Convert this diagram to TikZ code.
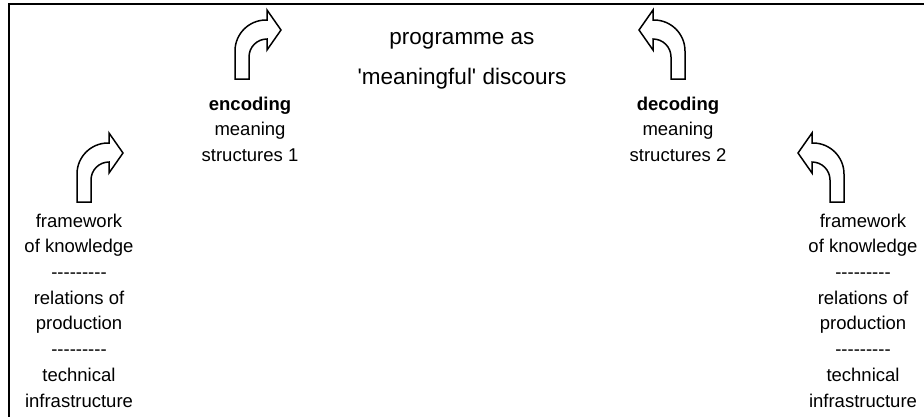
\documentclass[tikz,border=0pt]{standalone}
\usepackage{fontspec}
\setmainfont{Liberation Sans}[Ligatures=TeXOff]
\begin{document}
\begin{tikzpicture}[x=1pt,y=-1pt,
  txt/.style={inner sep=0pt, anchor=base, font=\fontsize{18.5}{22}\selectfont},
  bigtxt/.style={txt, font=\fontsize{22.5}{26}\selectfont},
  frameline/.style={line width=2pt, black},
  arrowline/.style={line width=1.5pt, black, line join=miter},
  bentarrow/.pic={
    \draw[arrowline, yscale=-1]
      (0,0) -- (0,28) arc[start angle=180, end angle=90, radius=31]
      -- (32,59) -- (32,69) -- (46,49) -- (32,29) -- (32,40)
      arc[start angle=90, end angle=180, radius=18] -- (14,0) -- cycle;
  }]
\useasboundingbox (0,0) rectangle (924,416);
\draw[frameline] (8.5,420) -- (8.5,3.5) -- (930,3.5);

% arrows
\pic at (77,202) {bentarrow};
\pic at (235,79) {bentarrow};
\pic[xscale=-1] at (685,79) {bentarrow};
\pic[xscale=-1] at (844,202) {bentarrow};

% top text
\node[bigtxt] (prog1) at (462,44) {programme as};
\node[bigtxt] (prog2) at (462,84) {'meaningful' discours};

% encoding
\node[txt] (enc) at (250,110) {\bfseries encoding};
\node[txt] (encm) at (250,135.7) {meaning};
\node[txt] (encs) at (250,161.4) {structures 1};

% decoding
\node[txt] (dec) at (678,110) {\bfseries decoding};
\node[txt] (decm) at (678,135.7) {meaning};
\node[txt] (decs) at (678,161.4) {structures 2};

% left stack
\node[txt] (l1) at (79,227) {framework};
\node[txt] (l2) at (79,252.7) {of knowledge};
\node[txt] (l3) at (79,278.4) {---------};
\node[txt] (l4) at (79,304.1) {relations of};
\node[txt] (l5) at (79,329.8) {production};
\node[txt] (l6) at (79,355.5) {---------};
\node[txt] (l7) at (79,381.2) {technical};
\node[txt] (l8) at (79,407) {infrastructure};

% right stack
\node[txt] (r1) at (863,227) {framework};
\node[txt] (r2) at (863,252.7) {of knowledge};
\node[txt] (r3) at (863,278.4) {---------};
\node[txt] (r4) at (863,304.1) {relations of};
\node[txt] (r5) at (863,329.8) {production};
\node[txt] (r6) at (863,355.5) {---------};
\node[txt] (r7) at (863,381.2) {technical};
\node[txt] (r8) at (863,407) {infrastructure};
\end{tikzpicture}
\end{document}
